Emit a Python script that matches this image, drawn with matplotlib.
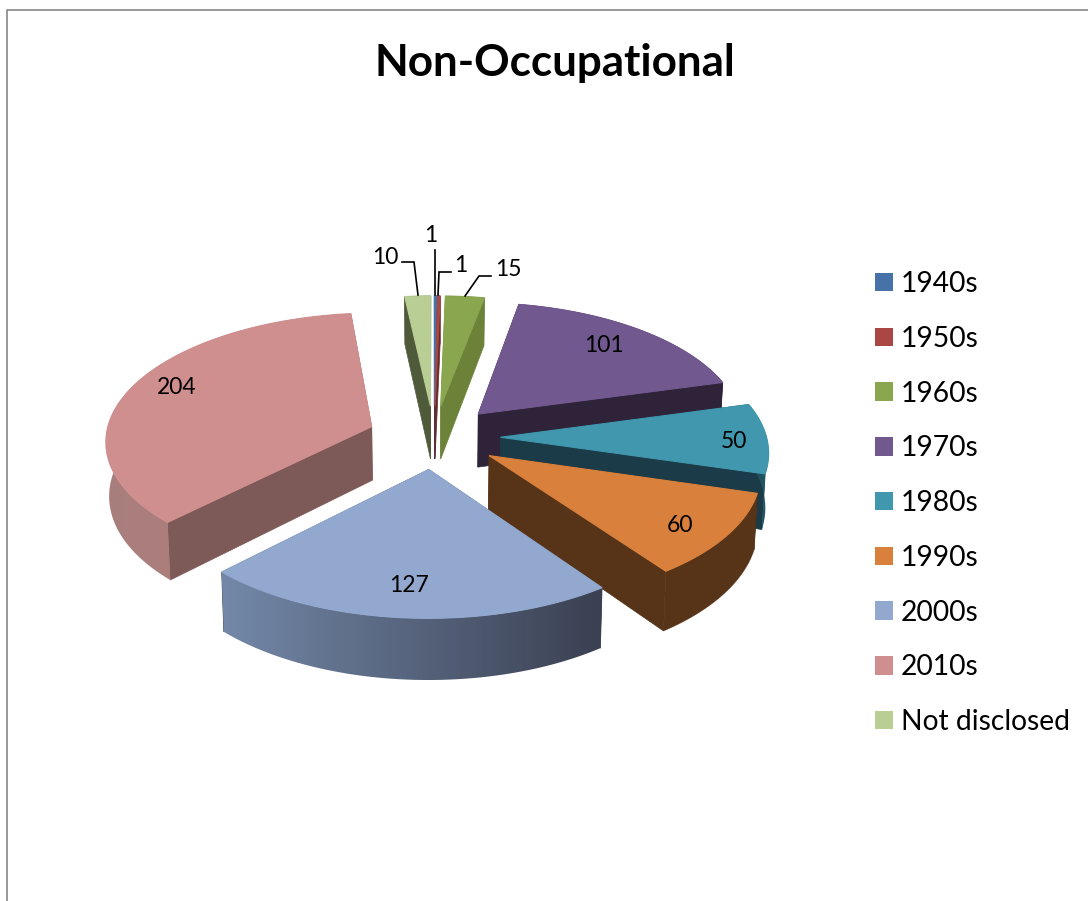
import numpy as np
import matplotlib
matplotlib.use("Agg")
import matplotlib.pyplot as plt
from matplotlib.colors import LinearSegmentedColormap
from matplotlib.patches import Patch, Polygon

plt.rcParams["font.family"] = ["Lato", "DejaVu Sans"]

title = "Non-Occupational"
decades = ["1940s", "1950s", "1960s", "1970s", "1980s", "1990s", "2000s", "2010s", "Not disclosed"]
counts = [1, 1, 15, 101, 50, 60, 127, 204, 10]

top_colors = ["#4672a8", "#aa4644", "#8aa64f", "#71588f", "#4097ae", "#d8803c", "#92a8cf", "#cf8f8e", "#b8ce95"]
face_colors = ["#2a4465", "#662a29", "#6b8238", "#2e2338", "#1a3b47", "#573318", "#3b4152", "#7d5957", "#4f5a3a"]
wall_left = ["#2a4465", "#662a29", "#6b8238", "#2e2338", "#1a3b47", "#573318", "#7388a8", "#a87e7c", "#4f5a3a"]
wall_right = ["#2a4465", "#662a29", "#6b8238", "#2e2338", "#265f70", "#573318", "#3a4051", "#b6807d", "#4f5a3a"]

# back to front
draw_order = [8, 0, 1, 2, 3, 4, 7, 5, 6]

# geometry of the fake 3d view, in pixels of the picture
CX, CY = 434, 437
RX, RY = 266, 127
DEPTH = 54
PERSPECTIVE = 0.1
EXPLODE = 0.25


def project(x, y, z=0.0):
    s = 1 / (1 + PERSPECTIVE * y)
    px = CX + RX * x * s * (1 - 0.01 * z)
    py = CY - RY * y * s + DEPTH * z * s
    return np.column_stack([px, py])


def draw_slice(ax, a0, a1, i, zo):
    mid = (a0 + a1) / 2
    ox, oy = EXPLODE * np.sin(mid), EXPLODE * np.cos(mid)
    n = max(2, int(np.degrees(a1 - a0)) * 2)
    t = np.linspace(a0, a1, n)
    x = ox + np.sin(t)
    y = oy + np.cos(t)

    rim_top = project(x, y, 0)
    rim_bot = project(x, y, 1)
    apex_top = project(np.array([ox]), np.array([oy]), 0)
    apex_bot = project(np.array([ox]), np.array([oy]), 1)

    # the two cut faces
    for k in (0, -1):
        quad = np.vstack([apex_top, rim_top[k], rim_bot[k], apex_bot])
        ax.add_patch(Polygon(quad, fc=face_colors[i], ec=face_colors[i], lw=0.5, zorder=zo))

    # outer wall, gradient runs left to right across it
    wall = np.vstack([rim_top, rim_bot[::-1]])
    if wall_left[i] == wall_right[i]:
        ax.add_patch(Polygon(wall, fc=wall_left[i], ec=wall_left[i], lw=0.3, zorder=zo + 0.01))
    else:
        cmap = LinearSegmentedColormap.from_list("wall", [wall_left[i], wall_right[i]])
        clip = Polygon(wall, fc="none", ec="none")
        ax.add_patch(clip)
        extent = (wall[:, 0].min(), wall[:, 0].max(), wall[:, 1].max(), wall[:, 1].min())
        im = ax.imshow(np.linspace(0, 1, 256).reshape(1, -1), cmap=cmap, extent=extent, aspect="auto", zorder=zo + 0.01)
        im.set_clip_path(clip)

    top = np.vstack([apex_top, rim_top])
    ax.add_patch(Polygon(top, fc=top_colors[i], ec=top_colors[i], lw=0.8, zorder=zo + 0.02))


fig = plt.figure(figsize=(10.88, 9.01), dpi=100)
ax = fig.add_axes([0, 0, 1, 1])
ax.axis("off")

# chart border, cut by the screenshot on the right and bottom
ax.plot([7, 7, 1088], [901, 10, 10], color="#868686", lw=1.2)

ends = np.radians(np.cumsum(counts) / np.sum(counts) * 360)
starts = np.concatenate([[0], ends[:-1]])
for order, i in enumerate(draw_order):
    draw_slice(ax, starts[i], ends[i], i, 1 + order * 0.1)

# imshow touches the limits, so set them after the slices
ax.set_xlim(0, 1088)
ax.set_ylim(901, 0)
ax.set_aspect("auto")

ax.text(555, 63, title, fontsize=31.7, fontweight="bold", ha="center", va="center", color="black")

inside_labels = {7: (177, 388), 6: (409, 586), 5: (680, 526), 4: (734, 442), 3: (604, 345)}
for i, (lx, ly) in inside_labels.items():
    ax.text(lx, ly, str(counts[i]), fontsize=16.5, ha="center", va="center", color="black")

# small slices get leader lines
outside_labels = {8: (385, 257), 0: (431, 235), 1: (461, 265), 2: (508, 270)}
leaders = {
    8: ([402, 414, 418], [262, 262, 295]),
    0: ([435, 435], [250, 295]),
    1: ([451, 439, 438], [272, 272, 295]),
    2: ([491, 479, 465], [276, 276, 296]),
}
for i, (lx, ly) in outside_labels.items():
    ax.text(lx, ly, str(counts[i]), fontsize=16.5, ha="center", va="center", color="black")
    ax.plot(leaders[i][0], leaders[i][1], color="black", lw=1.2, solid_joinstyle="miter", zorder=3)

handles = [Patch(fc=c, ec="none") for c in top_colors]
ax.legend(
    handles,
    decades,
    loc="upper left",
    bbox_to_anchor=(875, 271),
    bbox_transform=ax.transData,
    frameon=False,
    fontsize=20.3,
    handlelength=0.64,
    handleheight=0.64,
    handletextpad=0.28,
    labelspacing=1.02,
    borderpad=0,
    borderaxespad=0,
)

fig.savefig("out.png", dpi=100, facecolor="white")
